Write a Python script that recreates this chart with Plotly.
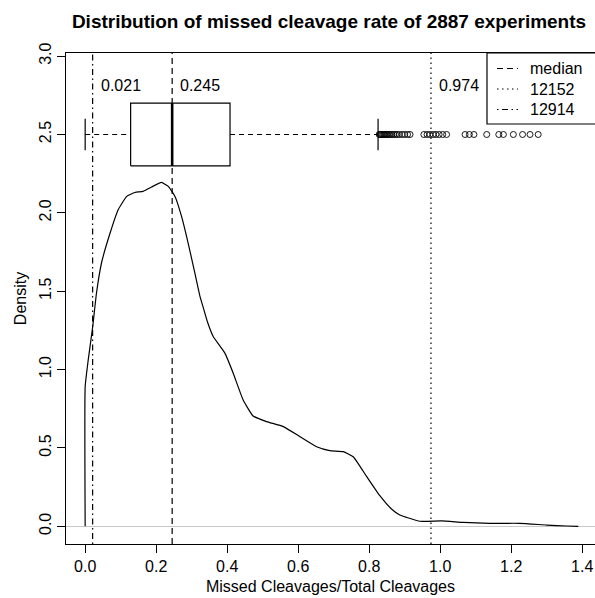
import plotly.graph_objects as go

# ---- data ----
dens_x = [0.0, 0.0, 0.0085, 0.021, 0.032, 0.046, 0.070, 0.093, 0.117, 0.140, 0.163, 0.187,
          0.215, 0.234, 0.253, 0.2715, 0.290, 0.309, 0.323, 0.332, 0.345, 0.3606, 0.3935,
          0.417, 0.445, 0.473, 0.511, 0.558, 0.605, 0.652, 0.689, 0.727, 0.755, 0.793,
          0.830, 0.862, 0.886, 0.905, 0.943, 1.004, 1.065, 1.140, 1.224, 1.300, 1.356, 1.389]
dens_y = [0.0, 0.89, 1.06, 1.27, 1.49, 1.68, 1.87, 2.02, 2.105, 2.13, 2.137, 2.165,
          2.194, 2.169, 2.105, 1.977, 1.807, 1.616, 1.47, 1.40, 1.30, 1.211, 1.105,
          0.977, 0.806, 0.704, 0.668, 0.636, 0.572, 0.508, 0.483, 0.476, 0.444, 0.317,
          0.195, 0.112, 0.072, 0.057, 0.032, 0.034, 0.025, 0.019, 0.019, 0.008, 0.002, 0.0]

box_stats = {"lower": 0.0, "q1": 0.128, "median": 0.245, "q3": 0.408, "upper": 0.825}
box_y = 2.5
outliers = [0.828, 0.831, 0.834, 0.837, 0.840, 0.843, 0.846, 0.849, 0.852, 0.856, 0.860,
            0.864, 0.869, 0.874, 0.879, 0.885, 0.893, 0.900, 0.908, 0.915,
            0.954, 0.963, 0.971, 0.980, 0.988, 0.997, 1.007, 1.018,
            1.070, 1.082, 1.095, 1.131, 1.165, 1.178, 1.206, 1.232, 1.253, 1.276]

vline_names = ["median", "12152", "12914"]
vline_values = [0.245, 0.974, 0.021]
vline_labels = ["0.245", "0.974", "0.021"]
vline_dashes = ["6px,4px", "1.5px,3.5px", "1.5px,3.5px,6px,3.5px"]

x_ticks = [0.0, 0.2, 0.4, 0.6, 0.8, 1.0, 1.2, 1.4]
y_ticks = [0.0, 0.5, 1.0, 1.5, 2.0, 2.5, 3.0]
x_range = [-0.054, 1.436]
y_range = [-0.113, 3.02]

FONT = "Liberation Sans, Arial, sans-serif"
LW = 1.2
W, H = 595, 598
ML, MR, MT, MB = 66, 0, 53, 54
PW, PH = W - ML - MR, H - MT - MB


def px2paper_x(px):
    return (px - ML) / PW


def px2paper_y(py):
    return (H - MB - py) / PH


fig = go.Figure()

# density curve
fig.add_trace(go.Scatter(x=dens_x, y=dens_y, mode="lines", showlegend=False,
                         line=dict(color="black", width=LW, shape="spline", smoothing=0.4),
                         hoverinfo="skip"))

# vertical reference lines
for name, v, dash in zip(vline_names, vline_values, vline_dashes):
    fig.add_trace(go.Scatter(x=[v, v], y=y_range, mode="lines", name=name, showlegend=False,
                             line=dict(color="black", width=LW, dash=dash)))

# boxplot
q1, med, q3 = box_stats["q1"], box_stats["median"], box_stats["q3"]
lo, up = box_stats["lower"], box_stats["upper"]
h = 0.2
fig.add_trace(go.Scatter(x=[q1, q3, q3, q1, q1],
                         y=[box_y - h, box_y - h, box_y + h, box_y + h, box_y - h],
                         mode="lines", showlegend=False,
                         line=dict(color="black", width=LW), fill="toself",
                         fillcolor="white"))
fig.add_trace(go.Scatter(x=[med, med], y=[box_y - h, box_y + h], mode="lines",
                         showlegend=False, line=dict(color="black", width=2.6)))
for a, b in [(lo, q1), (q3, up)]:
    fig.add_trace(go.Scatter(x=[a, b], y=[box_y, box_y], mode="lines", showlegend=False,
                             line=dict(color="black", width=LW, dash="5px,4px")))
for c in [lo, up]:
    fig.add_trace(go.Scatter(x=[c, c], y=[box_y - h / 2, box_y + h / 2], mode="lines",
                             showlegend=False, line=dict(color="black", width=LW)))
fig.add_trace(go.Scatter(x=outliers, y=[box_y] * len(outliers), mode="markers",
                         showlegend=False,
                         marker=dict(symbol="circle-open", size=6, color="black",
                                     line=dict(color="black", width=0.9))))

# value labels
for v, lab in zip(vline_values, vline_labels):
    fig.add_annotation(x=v, y=2.81, text=lab, showarrow=False, xanchor="left",
                       yanchor="middle", xshift=6,
                       font=dict(size=16, color="black", family=FONT))

# legend box (R-style)
fig.add_shape(type="rect", xref="paper", yref="paper",
              x0=px2paper_x(487), x1=px2paper_x(600), y0=px2paper_y(124), y1=px2paper_y(53),
              fillcolor="white", line=dict(color="black", width=1.2), layer="above")
row_y = [68.5, 89, 109.5]
for name, dash, ry in zip(vline_names, vline_dashes, row_y):
    fig.add_shape(type="line", xref="paper", yref="paper",
                  x0=px2paper_x(497), x1=px2paper_x(518), y0=px2paper_y(ry), y1=px2paper_y(ry),
                  line=dict(color="black", width=LW, dash=dash), layer="above")
    fig.add_annotation(xref="paper", yref="paper", x=px2paper_x(528), y=px2paper_y(ry),
                       text=name, showarrow=False, xanchor="left", yanchor="middle",
                       font=dict(size=16, color="black", family=FONT))

axis_common = dict(showline=True, linecolor="black", linewidth=1.2, mirror=True,
                   ticks="outside", ticklen=8, tickwidth=1.2, tickcolor="black",
                   showgrid=False, tickformat=".1f", automargin=False,
                   tickfont=dict(size=16, color="black", family=FONT))

fig.update_xaxes(range=x_range, tickvals=x_ticks, zeroline=False,
                 title=dict(text="Missed Cleavages/Total Cleavages", standoff=6,
                            font=dict(size=16, color="black", family=FONT)),
                 **axis_common)
fig.update_yaxes(range=y_range, tickvals=y_ticks, tickangle=-90,
                 zeroline=True, zerolinecolor="#c8c8c8", zerolinewidth=1.2,
                 title=dict(text="Density", standoff=5,
                            font=dict(size=16, color="black", family=FONT)),
                 **axis_common)

fig.update_layout(
    width=W, height=H,
    margin=dict(l=ML, r=MR, t=MT, b=MB),
    plot_bgcolor="white", paper_bgcolor="white",
    showlegend=False,
    title=dict(text="<b>Distribution of missed cleavage rate of 2887 experiments</b>",
               x=329 / W, xanchor="center", y=1 - 21.5 / H, yanchor="middle",
               font=dict(size=19, color="black", family=FONT)),
    font=dict(family=FONT, color="black"),
)

fig.write_html("out.html")
